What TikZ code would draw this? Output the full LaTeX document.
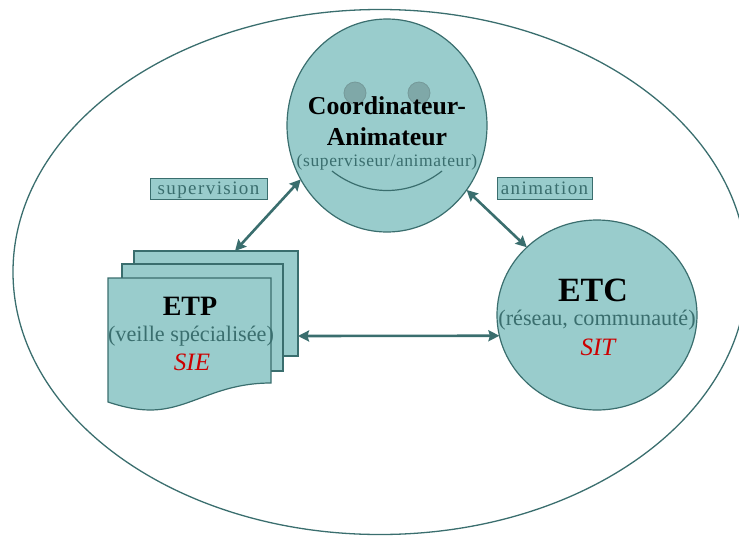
\documentclass[tikz,border=0pt]{standalone}
\usepackage{fontspec}
\setmainfont{Liberation Serif}
\usetikzlibrary{shapes.geometric,arrows.meta}
\definecolor{tealfill}{HTML}{99CCCC}
\definecolor{tealline}{HTML}{3A6E6E}
\definecolor{eyefill}{HTML}{7FA8A8}
\definecolor{sysred}{HTML}{CC0000}
\tikzset{
  x=1pt,y=-1pt,
  face/.style={ellipse,draw=tealline,fill=tealfill,line width=1.2pt,inner sep=0,outer sep=0},
  sheet/.style={rectangle,draw=tealline,fill=tealfill,line width=1.2pt,inner sep=0,outer sep=0},
  eye/.style={circle,draw=tealline!70,fill=eyefill,line width=0.8pt,inner sep=0,minimum size=22pt},
  tag/.style={rectangle,draw=tealline,fill=tealfill,line width=1pt,inner sep=0,text=tealline,text height=12pt,text depth=0pt,font=\fontsize{19}{20}\selectfont\addfontfeature{LetterSpace=7.5}},
  link/.style={{Stealth[length=11pt,width=11pt,inset=1.5pt]}-{Stealth[length=11pt,width=11pt,inset=1.5pt]},draw=tealline,line width=2.6pt},
  bigt/.style={inner sep=0,font=\bfseries\fontsize{25.8}{28}\selectfont,text=black},
  subt/.style={inner sep=0,text=tealline},
  syst/.style={inner sep=0,text=sysred,font=\itshape\fontsize{25}{27}\selectfont},
}
\begin{document}
\begin{tikzpicture}
\useasboundingbox (0,0) rectangle (739,536);
\clip (0,0) rectangle (739,536);
\node[ellipse,draw=tealline,line width=1.3pt,inner sep=0,minimum width=734pt,minimum height=525pt] (outer) at (380,272) {};
% coordinator
\node[face,minimum width=200pt,minimum height=213pt] (coord) at (387,125.5) {};
\node[eye] (eyeL) at (355,93) {};
\node[eye] (eyeR) at (419,93) {};
\coordinate (smileL) at (332,171);
\coordinate (smileR) at (442,171);
\draw[tealline,line width=1.2pt] (smileL) .. controls (365,197) and (409,197) .. (smileR);
\node[bigt] (t1) at (387,105.5) {Coordinateur-};
\node[bigt] (t2) at (387,136.5) {Animateur};
\node[subt,font=\fontsize{17.5}{18}\selectfont\addfontfeature{LetterSpace=3.5}] (t3) at (387,162) {(superviseur/animateur)};
% document stack
\node[sheet,minimum width=164pt,minimum height=105pt] (back) at (216,303.5) {};
\node[sheet,minimum width=161pt,minimum height=107pt] (mid) at (202.5,317.5) {};
\coordinate (fA) at (108,278);
\coordinate (fB) at (271,278);
\coordinate (fC) at (271,383);
\coordinate (fD) at (108,402);
\draw[draw=tealline,fill=tealfill,line width=1.2pt] (fA) -- (fB) -- (fC)
  .. controls (215,383) and (190,410) .. (150,410) .. controls (135,410) and (120,406) .. (fD) -- cycle;
\node[bigt,font=\bfseries\fontsize{28}{30}\selectfont] (e1) at (190,306) {ETP};
\node[subt,font=\fontsize{22.2}{24}\selectfont] (e2) at (191,336) {(veille spécialisée)};
\node[syst] (e3) at (192,362) {SIE};
% ETC
\node[face,minimum width=200pt,minimum height=190pt] (etc) at (597,315) {};
\node[bigt,font=\bfseries\fontsize{34}{36}\selectfont] (c1) at (593,290) {ETC};
\node[subt,font=\fontsize{22.2}{24}\selectfont] (c2) at (597,320) {(réseau, communauté)};
\node[syst] (c3) at (598,347) {SIT};
% tags
\node[tag,minimum width=117pt,minimum height=21pt] (sup) at (208.5,188.5) {supervision};
\node[tag,minimum width=95pt,minimum height=22pt] (ani) at (544.5,188) {animation};
% links
\draw[link] ([xshift=19pt]back.north) -- (coord.212);
\draw[link] (coord.321.3) -- (etc.136);
\draw[link] ([yshift=-32.5pt]back.east) -- (etc.192);
\end{tikzpicture}
\end{document}
